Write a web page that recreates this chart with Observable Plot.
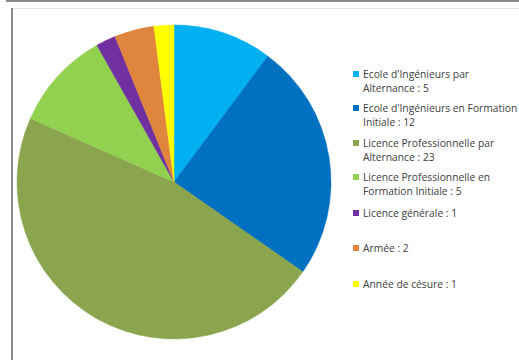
<!DOCTYPE html>
<html><head><meta charset="utf-8">
<script src="https://cdn.jsdelivr.net/npm/d3@7"></script>
<script src="https://cdn.jsdelivr.net/npm/@observablehq/plot@0.6"></script>
<style>
body{margin:0;background:#fff;}
#wrap{position:relative;width:519px;height:360px;overflow:hidden;font-family:"Open Sans",sans-serif;}
#wrap svg{position:absolute;left:0;top:0;}
.b{position:absolute;}
#legend{position:absolute;left:353px;top:67px;font-size:10.3px;color:#404040;line-height:14px;}
.item{position:absolute;left:0;white-space:nowrap;}
.sw{position:absolute;left:0;top:4px;width:6px;height:6px;}
.tx{position:absolute;left:10px;top:0;}
</style></head>
<body>
<div id="wrap">
<div class="b" style="left:6px;top:0;width:513px;height:2px;background:#8c8c8c"></div>
<div class="b" style="left:12px;top:8px;width:507px;height:1px;background:#e6e6e6"></div>
<div class="b" style="left:11px;top:8px;width:2px;height:352px;background:#8c8c8c"></div>
<div id="legend"></div>
</div>
<script>
const categories = ["Ecole d'Ingénieurs par Alternance","Ecole d'Ingénieurs en Formation Initiale","Licence Professionnelle par Alternance","Licence Professionnelle en Formation Initiale","Licence générale","Armée","Année de césure"];
const values = [5, 12, 23, 5, 1, 2, 1];
const colors = ["#00B0F0","#0070C0","#8AA54D","#92D050","#7030A0","#E0853D","#FFFF00"];
const legendLines = [
  ["Ecole d'Ingénieurs par","Alternance : 5"],
  ["Ecole d'Ingénieurs en Formation","Initiale : 12"],
  ["Licence Professionnelle par","Alternance : 23"],
  ["Licence Professionnelle en","Formation Initiale : 5"],
  ["Licence générale : 1"],
  ["Armée : 2"],
  ["Année de césure : 1"]
];
const legendTops = [0, 34, 69, 103, 139, 174, 210];

const data = categories.map((c,i)=>({cat:c, value:values[i]}));
const arcs = d3.pie().sort(null).value(d=>d.value)(data);

const pieMark = (index, scales, values_, dims) => {
  const cx = scales.x(0), cy = scales.y(0);
  const r = scales.x(1) - scales.x(0);
  const arc = d3.arc().innerRadius(0).outerRadius(r);
  const g = d3.create("svg:g").attr("transform", `translate(${cx},${cy})`);
  g.selectAll("path").data(arcs).join("path")
    .attr("d", arc)
    .attr("fill", d => scales.color(d.data.cat))
    .attr("stroke", d => scales.color(d.data.cat))
    .attr("stroke-width", 0.5);
  return g.node();
};

const chart = Plot.plot({
  width: 519, height: 360,
  marginLeft: 17, marginRight: 188, marginTop: 25, marginBottom: 21,
  x: {domain: [-1, 1], axis: null},
  y: {domain: [-1, 1], axis: null},
  color: {domain: categories, range: colors},
  style: {background: "transparent"},
  marks: [pieMark]
});
document.getElementById("wrap").prepend(chart);

const leg = d3.select("#legend");
categories.forEach((c,i)=>{
  const it = leg.append("div").attr("class","item").style("top", legendTops[i]+"px");
  it.append("div").attr("class","sw").style("background", chart.scale("color").apply(c));
  it.append("div").attr("class","tx").html(legendLines[i].join("<br>"));
});
</script>
</body></html>
